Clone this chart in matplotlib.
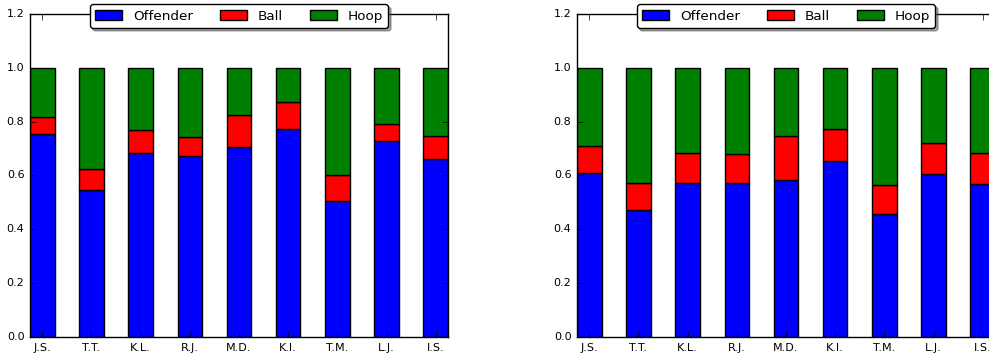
import numpy as np
import matplotlib
matplotlib.use("Agg")
import matplotlib.pyplot as plt

plt.style.use("classic")

players = ["J.S.", "T.T.", "K.L.", "R.J.", "M.D.", "K.I.", "T.M.", "L.J.", "I.S."]

# left panel
offender_l = [0.755, 0.546, 0.684, 0.671, 0.707, 0.774, 0.504, 0.728, 0.661]
ball_l = [0.061, 0.079, 0.086, 0.073, 0.117, 0.099, 0.098, 0.065, 0.086]
hoop_l = [0.184, 0.375, 0.230, 0.256, 0.176, 0.127, 0.398, 0.207, 0.253]

# right panel
offender_r = [0.609, 0.473, 0.572, 0.572, 0.583, 0.654, 0.457, 0.604, 0.570]
ball_r = [0.101, 0.099, 0.110, 0.108, 0.165, 0.118, 0.108, 0.117, 0.112]
hoop_r = [0.290, 0.428, 0.318, 0.320, 0.252, 0.228, 0.435, 0.279, 0.318]

fig = plt.figure(figsize=(9.89, 3.56), dpi=100, facecolor="white")
ax1 = fig.add_axes([30 / 989, 19 / 356, 418 / 989, 323 / 356])
ax2 = fig.add_axes([577 / 989, 19 / 356, 418 / 989, 323 / 356])

width = 0.5
for ax, off, ball, hoop in [(ax1, offender_l, ball_l, hoop_l),
                            (ax2, offender_r, ball_r, hoop_r)]:
    x = np.arange(len(players))
    off = np.array(off)
    ball = np.array(ball)
    hoop = np.array(hoop)
    ax.bar(x, off, width, align="edge", color="b", label="Offender")
    ax.bar(x, ball, width, bottom=off, align="edge", color="r", label="Ball")
    ax.bar(x, hoop, width, bottom=off + ball, align="edge", color="g", label="Hoop")
    ax.set_xlim(0, len(players) - 1 + width)
    ax.set_ylim(0, 1.2)
    ax.set_xticks(x + width / 2)
    ax.set_xticklabels(players)
    ax.tick_params(labelsize=8)
    ax.legend(loc="upper center", bbox_to_anchor=(0.5, 1.03), borderaxespad=0,
              ncol=3, fontsize=9.7, shadow=True, fancybox=True)

plt.savefig("out.png", dpi=100, facecolor="white")
